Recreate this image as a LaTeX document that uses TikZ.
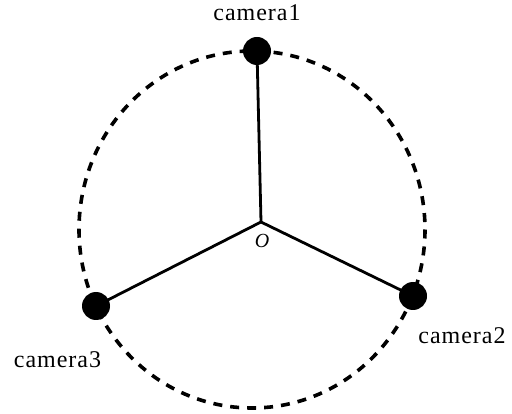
\documentclass[tikz,border=0pt]{standalone}
\usepackage{fontspec}
\setmainfont{Liberation Serif}
\newfontfamily\lblfont[LetterSpace=4]{Liberation Serif}
\begin{document}
\begin{tikzpicture}[x=1pt,y=-1pt,
  cam/.style={circle,fill=black,inner sep=0pt,minimum size=28pt},
  lbl/.style={anchor=base,inner sep=0pt,font=\lblfont\fontsize{24}{27}\selectfont},
  spoke/.style={line width=2.8pt},
  ring/.style={line width=3.6pt,dash pattern=on 9pt off 8pt}]
\useasboundingbox (0,0) rectangle (512,414);
\draw[ring] (252,229.5) ellipse [x radius=173, y radius=178.5];
\coordinate (O) at (261,222);
\node[cam] (c1) at (257,51) {};
\node[cam] (c2) at (413,296) {};
\node[cam] (c3) at (96,306) {};
\draw[spoke] (O) -- (c1.center);
\draw[spoke] (O) -- (c2.center);
\draw[spoke] (O) -- (c3.center);
\node[anchor=base,inner sep=0pt,font=\fontsize{20}{22}\selectfont\itshape] (olbl) at (262,248) {O};
\node[lbl] (l1) at (257,21) {camera1};
\node[lbl] (l2) at (462,344) {camera2};
\node[lbl] (l3) at (57.5,367) {camera3};
\end{tikzpicture}
\end{document}
